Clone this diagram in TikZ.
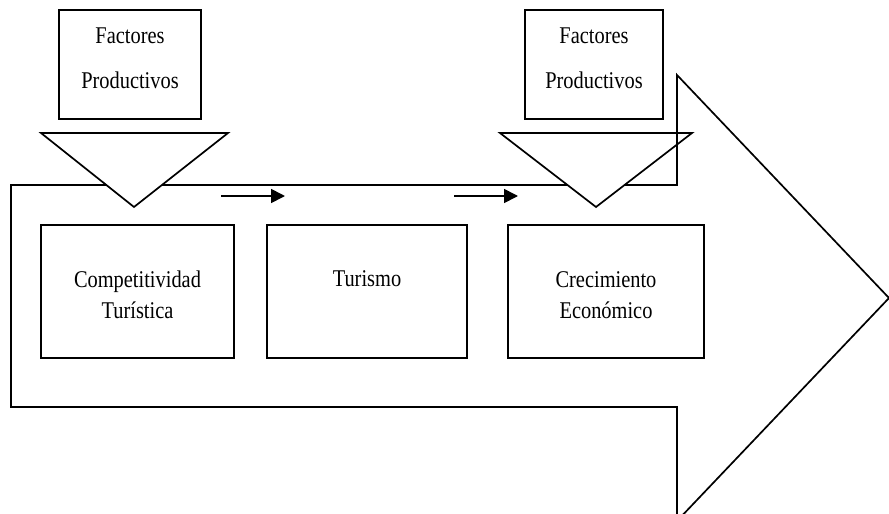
\documentclass[tikz,border=0pt]{standalone}
\usepackage{fontspec}
\setmainfont[FakeStretch=0.85]{Liberation Serif}
\usetikzlibrary{arrows.meta}

\tikzset{
  outline/.style={draw=black, line width=1.7pt, line join=miter},
  box/.style={outline, fill=white, rectangle, inner sep=0pt},
  txt/.style={anchor=base, inner sep=0pt, font=\fontsize{24}{28}\selectfont},
  flow/.style={line width=1.7pt, -{Triangle[length=14pt,width=14pt]}}
}

\begin{document}
\begin{tikzpicture}[x=1pt,y=-1pt]
  \useasboundingbox[fill=white] (0,0) rectangle (889,514);

  % large block arrow carrying the chain
  \draw[outline, fill=white] (11,185) -- (677,185) -- (677,75) -- (889,298)
     -- (677,521) -- (677,407) -- (11,407) -- cycle;

  % input boxes
  \node[box, minimum width=142pt, minimum height=109pt] (fp1) at (130,64.5) {};
  \node[box, minimum width=138pt, minimum height=109pt] (fp2) at (594,64.5) {};
  \node[txt] (fp1a) at (130,43) {Factores};
  \node[txt] (fp1b) at (130,88) {Productivos};
  \node[txt] (fp2a) at (594,43) {Factores};
  \node[txt] (fp2b) at (594,88) {Productivos};

  % funnels feeding the arrow
  \coordinate (t1l) at (41,133);  \coordinate (t1r) at (228,133);  \coordinate (t1p) at (134,207);
  \coordinate (t2l) at (500,133); \coordinate (t2r) at (692,133);  \coordinate (t2p) at (596,207);
  \draw[outline, fill=white] (t1l) -- (t1r) -- (t1p) -- cycle;
  \draw[outline, fill=white] (t2l) -- (t2r) -- (t2p) -- cycle;
  % back edge of the arrow head stays visible over the funnel
  \coordinate (hd1) at (677,75); \coordinate (hd2) at (677,185);
  \draw[outline] (hd1) -- (hd2);

  % chain boxes
  \node[box, minimum width=193pt, minimum height=133pt] (comp) at (137.5,291.5) {};
  \node[box, minimum width=200pt, minimum height=133pt] (tur) at (367,291.5) {};
  \node[box, minimum width=196pt, minimum height=133pt] (crec) at (606,291.5) {};
  \node[txt] (compa) at (137.5,287) {Competitividad};
  \node[txt] (compb) at (137.5,318) {Turística};
  \node[txt] (tura) at (367,286) {Turismo};
  \node[txt] (creca) at (606,287) {Crecimiento};
  \node[txt] (crecb) at (606,318) {Económico};

  % small flow arrows
  \coordinate (a1s) at (221,196); \coordinate (a1e) at (285,196);
  \coordinate (a2s) at (454,196); \coordinate (a2e) at (518,196);
  \draw[flow] (a1s) -- (a1e);
  \draw[flow] (a2s) -- (a2e);
\end{tikzpicture}
\end{document}
